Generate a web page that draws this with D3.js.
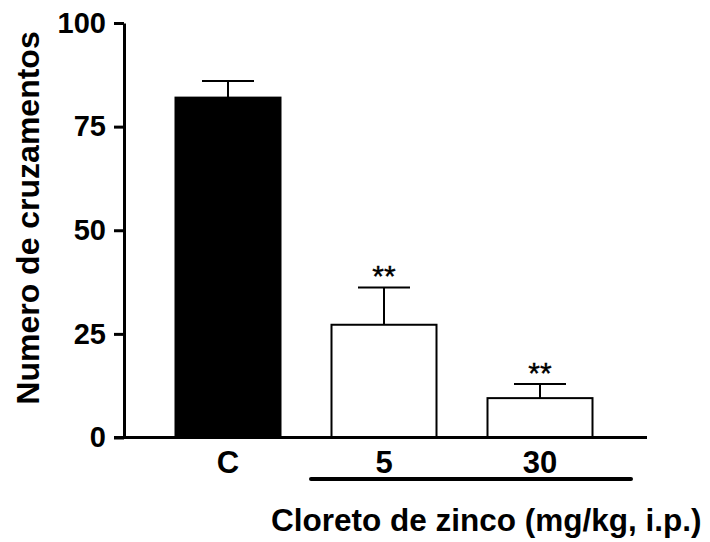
<!DOCTYPE html>
<html>
<head>
<meta charset="utf-8">
<script src="https://cdn.jsdelivr.net/npm/d3@7"></script>
<style>
  html, body { margin: 0; padding: 0; background: #fff; }
  svg { display: block; font-family: "Liberation Sans", Arial, Helvetica, sans-serif; }
</style>
</head>
<body>
<svg id="chart" width="710" height="542"></svg>
<script>
// Groups, means and SEM
const categories = ["C", "5", "30"];
const means = [82, 27.2, 9.5];
const errors = [4, 9, 3.4];
const significance = ["", "**", "**"];
const yTicks = [0, 25, 50, 75, 100];

const svg = d3.select("#chart");

const y = d3.scaleLinear().domain([0, 100]).range([437.5, 23]);
const x = d3.scalePoint().domain(categories).range([228, 540]);
const barWidth = 105;
const axisX = 124;

// Bars: control filled black, treated groups open
svg.selectAll("rect.bar")
  .data(categories)
  .enter().append("rect")
  .attr("class", "bar")
  .attr("x", (d) => x(d) - barWidth / 2)
  .attr("y", (d, i) => y(means[i]))
  .attr("width", barWidth)
  .attr("height", (d, i) => y(0) - y(means[i]))
  .attr("fill", (d, i) => i === 0 ? "#000" : "#fff")
  .attr("stroke", "#000")
  .attr("stroke-width", 2);

// Upper error bars
const eb = svg.selectAll("g.err")
  .data(categories)
  .enter().append("g")
  .attr("class", "err")
  .attr("stroke", "#000")
  .attr("stroke-width", 2);
eb.append("line")
  .attr("x1", (d) => x(d)).attr("x2", (d) => x(d))
  .attr("y1", (d, i) => y(means[i]))
  .attr("y2", (d, i) => y(means[i] + errors[i]));
eb.append("line")
  .attr("x1", (d) => x(d) - 26).attr("x2", (d) => x(d) + 26)
  .attr("y1", (d, i) => y(means[i] + errors[i]))
  .attr("y2", (d, i) => y(means[i] + errors[i]));

// Significance marks
svg.selectAll("text.sig")
  .data(categories)
  .enter().append("text")
  .attr("class", "sig")
  .attr("x", (d) => x(d))
  .attr("y", (d, i) => y(means[i] + errors[i]) - 1)
  .attr("text-anchor", "middle")
  .attr("font-size", 30)
  .attr("stroke", "#000")
  .attr("stroke-width", 0.4)
  .text((d, i) => significance[i]);

// Y axis
const yAxis = svg.append("g")
  .attr("transform", `translate(${axisX},0)`)
  .call(d3.axisLeft(y).tickValues(yTicks).tickSize(10).tickSizeOuter(0).tickPadding(8));
yAxis.select(".domain").attr("stroke-width", 3);
yAxis.selectAll(".tick line").attr("stroke-width", 3);
yAxis.selectAll(".tick text")
  .attr("font-size", 29)
  .attr("font-weight", "bold")
  .attr("font-family", "Liberation Sans, Arial, sans-serif")
  .attr("fill", "#000");

// X axis baseline
svg.append("line")
  .attr("x1", axisX - 10).attr("x2", 647)
  .attr("y1", y(0)).attr("y2", y(0))
  .attr("stroke", "#000").attr("stroke-width", 3);

// Category labels
svg.selectAll("text.cat")
  .data(categories)
  .enter().append("text")
  .attr("class", "cat")
  .attr("x", (d) => x(d))
  .attr("y", 473)
  .attr("text-anchor", "middle")
  .attr("font-size", 31)
  .attr("font-weight", "bold")
  .text((d) => d);

// Bracket line grouping the treated doses
svg.append("line")
  .attr("x1", 311).attr("x2", 631)
  .attr("y1", 479).attr("y2", 479)
  .attr("stroke", "#000").attr("stroke-width", 4)
  .attr("stroke-linecap", "round");

// Axis titles
svg.append("text")
  .attr("x", 271).attr("y", 531)
  .attr("text-anchor", "start")
  .attr("font-size", 31.5)
  .attr("font-weight", "bold")
  .text("Cloreto de zinco (mg/kg, i.p.)");

svg.append("text")
  .attr("transform", "translate(39,218) rotate(-90)")
  .attr("text-anchor", "middle")
  .attr("font-size", 32)
  .attr("font-weight", "bold")
  .text("Numero de cruzamentos");
</script>
</body>
</html>
